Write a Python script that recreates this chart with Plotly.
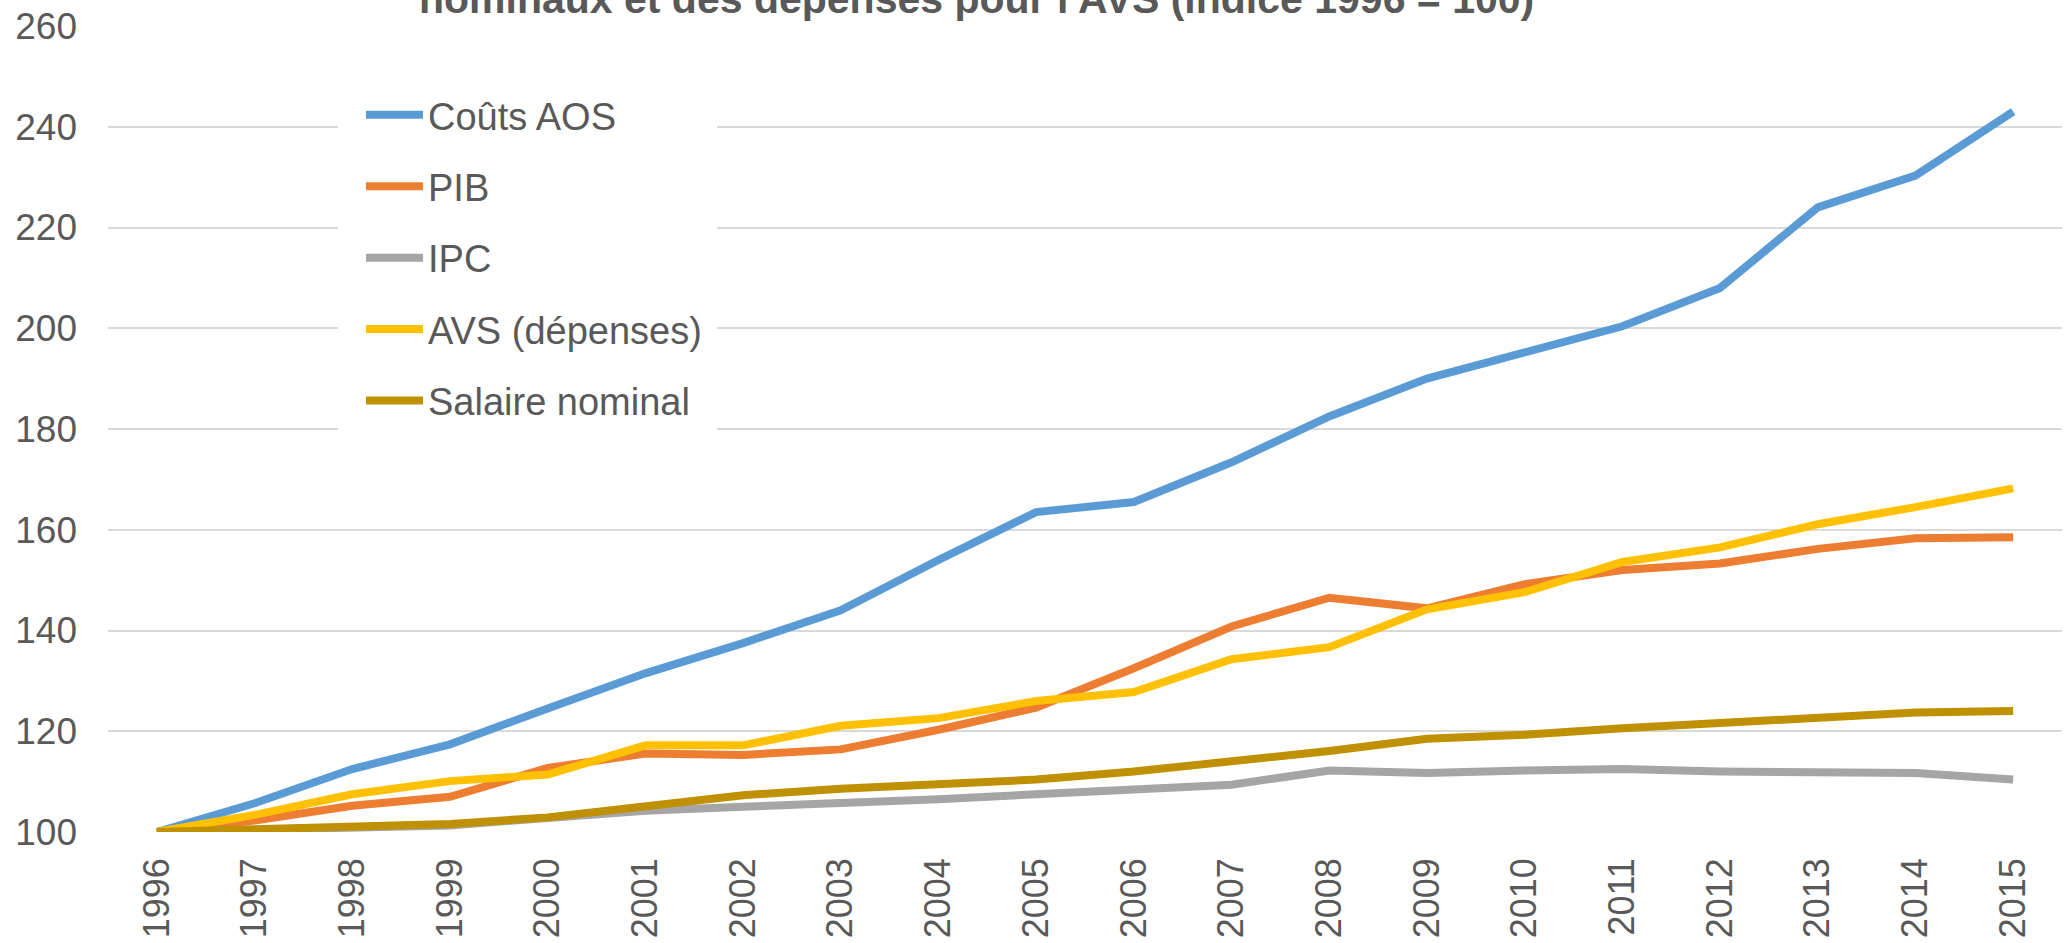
import plotly.graph_objects as go

years = [str(y) for y in range(1996, 2016)]
couts_aos = [100, 105.7, 112.5, 117.4, 124.5, 131.5, 137.5, 144.0, 154.0, 163.5,
             165.5, 173.4, 182.5, 190.0, 195.2, 200.4, 208.0, 224.0, 230.3, 243.0]
pib = [100, 102.3, 105.2, 107.0, 112.7, 115.6, 115.3, 116.4, 120.3, 124.7,
       132.5, 140.8, 146.5, 144.4, 149.2, 152.0, 153.3, 156.2, 158.3, 158.5]
ipc = [100, 100.5, 100.8, 101.3, 102.8, 104.2, 105.0, 105.7, 106.5, 107.5,
       108.6, 109.4, 112.2, 111.7, 112.2, 112.5, 112.0, 111.7, 111.7, 110.4]
avs = [100, 103.4, 107.5, 110.1, 111.4, 117.2, 117.2, 121.1, 122.6, 126.0,
       127.8, 134.3, 136.7, 144.2, 147.6, 153.6, 156.5, 161.1, 164.5, 168.2]
salaire = [100, 100.5, 101.0, 101.6, 102.9, 105.2, 107.3, 108.6, 109.4, 110.4,
           112.0, 114.0, 116.1, 118.5, 119.3, 120.6, 121.6, 122.6, 123.7, 124.0]

series = [
    ("Coûts AOS", couts_aos, "#5B9BD5"),
    ("PIB", pib, "#ED7D31"),
    ("IPC", ipc, "#A5A5A5"),
    ("AVS (dépenses)", avs, "#FFC000"),
    ("Salaire nominal", salaire, "#BF9000"),
]

title_text = "nominaux et des dépenses pour l'AVS (indice 1996 = 100)"

# plot area geometry (pixels)
L, R, T, B = 108, 2062, 26, 837
PW, PH = R - L, B - T


def px(x):
    return (x - L) / PW


def py(y):
    return (B - y) / PH


fig = go.Figure()
for i, (name, vals, col) in enumerate(series):
    fig.add_trace(go.Scatter(x=years, y=vals, mode="lines", name=name,
                             legendgroup=f"g{i}",
                             line=dict(color=col, width=8)))

font_family = "Liberation Sans, Arial, sans-serif"
fig.update_layout(
    width=2067, height=943,
    margin=dict(l=L, r=2067 - R, t=T, b=943 - B),
    paper_bgcolor="white", plot_bgcolor="white",
    font=dict(family=font_family, color="#595959", size=35),
    showlegend=True,
    legend=dict(
        x=px(361), y=py(84), xanchor="left", yanchor="top",
        bgcolor="rgba(0,0,0,0)", font=dict(size=38, color="#595959"),
        tracegroupgap=19, traceorder="grouped", itemwidth=57,
    ),
    xaxis=dict(
        type="category", range=[-0.5, len(years) - 0.5], tickangle=-90,
        showgrid=False, showline=False,
        ticks="", tickfont=dict(size=36, color="#595959"),
        ticklabelstandoff=18,
    ),
    yaxis=dict(
        range=[100, 260], dtick=20, showgrid=True, gridcolor="#D9D9D9",
        gridwidth=2, zeroline=False, showline=False, ticks="",
        tickfont=dict(size=37, color="#595959"), ticklabelstandoff=30,
    ),
    shapes=[dict(
        type="rect", xref="paper", yref="paper", layer="above",
        x0=px(338), x1=px(717), y0=py(450), y1=py(78),
        fillcolor="white", line=dict(width=0),
    )],
    annotations=[dict(
        text=f"<b>{title_text}</b>", xref="paper", yref="paper",
        x=px(976), y=1 + (26 - 24) / PH, xanchor="center",
        yanchor="bottom", showarrow=False,
        font=dict(size=41, color="#595959", family=font_family),
    )],
)

fig.write_html("out.html")
